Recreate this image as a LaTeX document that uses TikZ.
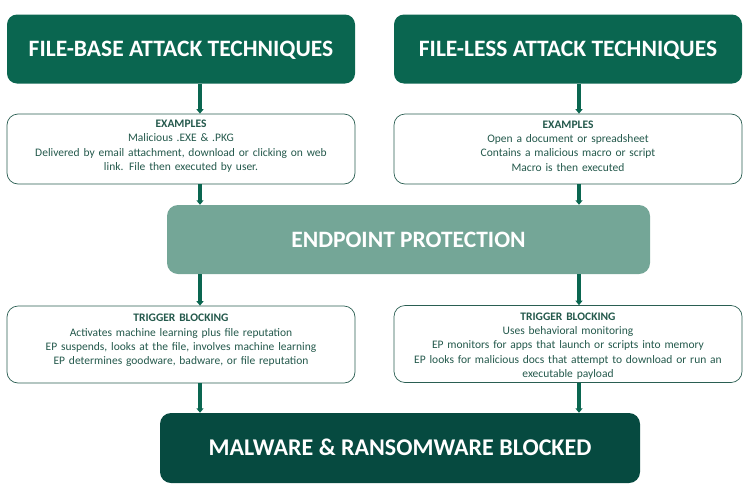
\documentclass[tikz,border=0pt]{standalone}
\usepackage{fontspec}
\setmainfont{Carlito}
\usetikzlibrary{arrows.meta}
\definecolor{topgreen}{HTML}{0A6650}
\definecolor{midgreen}{HTML}{74A697}
\definecolor{darkgreen}{HTML}{064A40}
\definecolor{txtgreen}{HTML}{24594C}
\definecolor{bordergreen}{HTML}{2A5E52}
\begin{document}
\begin{tikzpicture}[x=1pt,y=-1pt,
  titlebox/.style={fill=topgreen,rounded corners=10pt,minimum width=348pt,minimum height=69pt,inner sep=0pt,text=white,text height=15pt,text depth=0pt,font=\bfseries\fontsize{23.5}{26}\selectfont},
  infobox/.style={draw=bordergreen,line width=0.7pt,fill=white,rounded corners=11pt,minimum width=348pt,inner sep=0pt},
  infotext/.style={inner sep=0pt,text=txtgreen,align=center,text width=344pt,font=\fontsize{11.5}{14.4}\selectfont},
  flowarrow/.style={draw=topgreen,line width=3.5pt,-{Triangle[width=7pt,length=4.5pt]}}
]
\useasboundingbox (0,0) rectangle (751,490);
\node[titlebox] (t1) at (181,49) {FILE-BASE ATTACK TECHNIQUES};
\node[titlebox] (t2) at (568,49) {FILE-LESS ATTACK TECHNIQUES};
\node[infobox,minimum height=70pt] (e1) at (181,149) {};
\node[infotext,yshift=3pt] (e1t) at (e1.center) {\textbf{EXAMPLES}\\Malicious .EXE \& .PKG\\Delivered by email attachment, download or clicking on web\\link. File then executed by user.};
\node[infobox,minimum height=70pt] (e2) at (568,149) {};
\node[infotext,yshift=3pt] (e2t) at (e2.center) {\textbf{EXAMPLES}\\Open a document or spreadsheet\\Contains a malicious macro or script\\Macro is then executed};
\node[fill=midgreen,rounded corners=11pt,minimum width=483pt,minimum height=69pt,inner sep=0pt,text=white,text height=15pt,text depth=0pt,font=\bfseries\fontsize{23.5}{26}\selectfont] (ep) at (408.5,239.5) {ENDPOINT PROTECTION};
\node[infobox,minimum height=77pt] (b1) at (181,344.5) {};
\node[infotext,yshift=4pt] (b1t) at (b1.center) {\textbf{TRIGGER BLOCKING}\\Activates machine learning plus file reputation\\EP suspends, looks at the file, involves machine learning\\EP determines goodware, badware, or file reputation};
\node[infobox,minimum height=77pt] (b2) at (568,344) {};
\node[infotext,yshift=-2pt] (b2t) at (b2.center) {\textbf{TRIGGER BLOCKING}\\Uses behavioral monitoring\\EP monitors for apps that launch or scripts into memory\\EP looks for malicious docs that attempt to download or run an\\executable payload};
\node[fill=darkgreen,rounded corners=11pt,minimum width=480pt,minimum height=70pt,inner sep=0pt,text=white,text height=15.5pt,text depth=0pt,font=\bfseries\fontsize{24}{27}\selectfont] (mw) at (400,448) {MALWARE \& RANSOMWARE BLOCKED};
\coordinate (cl) at (200,0);
\coordinate (cr) at (579,0);
\draw[flowarrow] (t1.south -| cl) -- (e1.north -| cl);
\draw[flowarrow] (t2.south -| cr) -- (e2.north -| cr);
\draw[flowarrow] (e1.south -| cl) -- (ep.north -| cl);
\draw[flowarrow] (e2.south -| cr) -- (ep.north -| cr);
\draw[flowarrow] (ep.south -| cl) -- (b1.north -| cl);
\draw[flowarrow] (ep.south -| cr) -- (b2.north -| cr);
\draw[flowarrow] (b1.south -| cl) -- (mw.north -| cl);
\draw[flowarrow] (b2.south -| cr) -- (mw.north -| cr);
\end{tikzpicture}
\end{document}
